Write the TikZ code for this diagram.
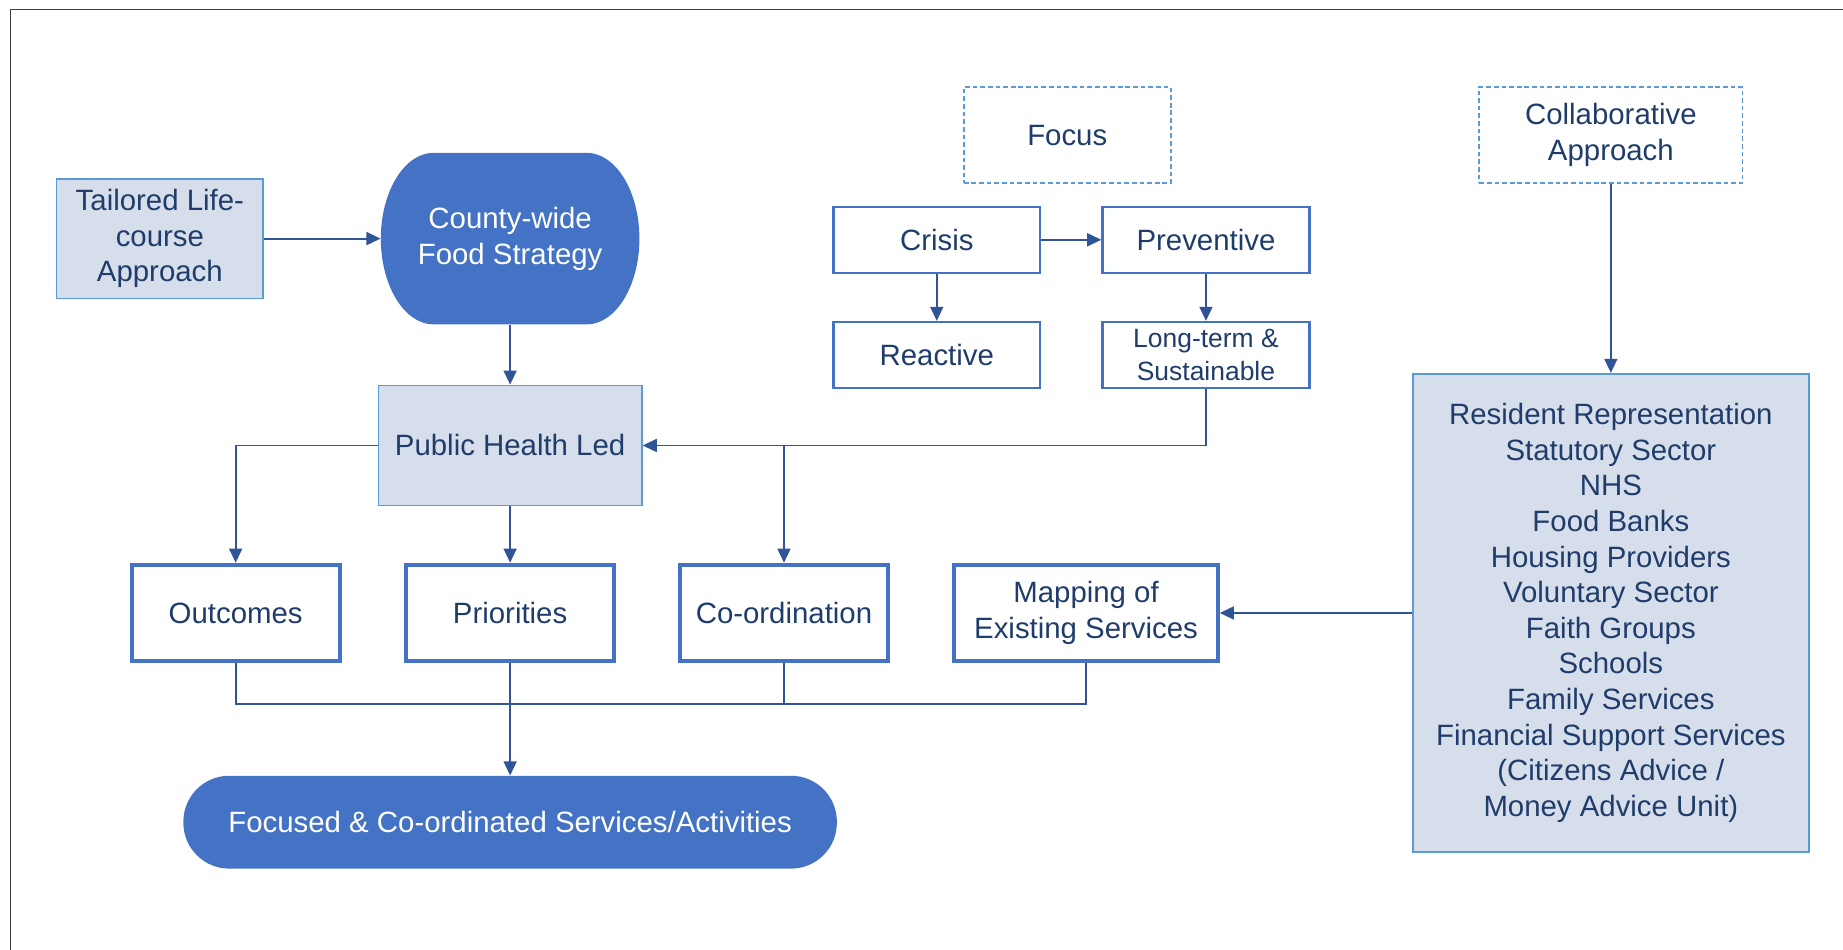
\documentclass[tikz,border=0pt]{standalone}
\usepackage{fontspec}
\setmainfont{Liberation Sans}
\usetikzlibrary{arrows.meta}
\definecolor{strategyblue}{RGB}{68,114,196}
\definecolor{paleblue}{RGB}{214,222,235}
\definecolor{edgeblue}{RGB}{91,155,213}
\definecolor{linkblue}{RGB}{47,85,151}
\definecolor{inkblue}{RGB}{31,60,106}
\tikzset{
	txt/.style={font=\fontsize{25}{30.3}\selectfont, text=inkblue, align=center, inner sep=0pt},
	palebox/.style={txt, draw=edgeblue, fill=paleblue, line width=1.5pt},
	focusbox/.style={txt, draw=edgeblue, dash pattern=on 4pt off 2.5pt, line width=1.6pt},
	plainbox/.style={txt, draw=strategyblue, line width=2pt, minimum width=176pt, minimum height=56pt},
	stagebox/.style={txt, draw=strategyblue, line width=3.5pt, minimum width=177pt, minimum height=82pt},
	link/.style={draw=linkblue, line width=1.6pt},
	arrow/.style={link, -{Triangle[length=12pt,width=11pt]}}
}
\begin{document}
\begin{tikzpicture}[x=1pt, y=-1pt]
		\useasboundingbox (0,0) rectangle (1568,808);
		\draw[black!75, line width=1.5pt] (9,808) -- (9,8) -- (1568,8);
		% strategy shape
		\fill[strategyblue] (369,130) -- (499,130) .. controls (524,130) and (544,163) .. (544,203)
			.. controls (544,243) and (524,276) .. (499,276) -- (369,276)
			.. controls (344,276) and (324,243) .. (324,203)
			.. controls (324,163) and (344,130) .. (369,130) -- cycle;
		\node[txt, text=white, minimum width=220pt, minimum height=146pt] (county) at (434,203) {County-wide\\Food Strategy};
		\node[palebox, minimum width=176pt, minimum height=102pt] (tailored) at (136,203) {Tailored Life-\\course\\Approach};
		\node[palebox, minimum width=224pt, minimum height=102pt] (health) at (434,379) {Public Health Led};
		% focus
		\node[focusbox, minimum width=176pt, minimum height=82pt] (focus) at (908,115) {Focus};
		\node[plainbox] (crisis) at (797,204) {Crisis};
		\node[plainbox] (prevent) at (1026,204) {Preventive};
		\node[plainbox] (reactive) at (797,302) {Reactive};
		\node[plainbox, font=\fontsize{22.5}{28}\selectfont] (longterm) at (1026,302) {Long-term \&\\Sustainable};
		% partners
		\node[focusbox, minimum width=224pt, minimum height=82pt] (collab) at (1370.5,115) {Collaborative\\Approach};
		\node[palebox, minimum width=337pt, minimum height=407pt] (partners) at (1370.5,521.5) {Resident Representation\\Statutory Sector\\NHS\\Food Banks\\Housing Providers\\Voluntary Sector\\Faith Groups\\Schools\\Family Services\\Financial Support Services\\(Citizens Advice /\\Money Advice Unit)};
		% stages
		\node[stagebox] (outcomes) at (200.5,521.5) {Outcomes};
		\node[stagebox] (priorities) at (434,521.5) {Priorities};
		\node[stagebox] (coord) at (667,521.5) {Co-ordination};
		\node[stagebox, minimum width=224pt] (mapping) at (924,521.5) {Mapping of\\Existing Services};
		\node[txt, text=white, fill=strategyblue, rounded corners=39pt, minimum width=556pt, minimum height=79pt] (focused) at (434,699.5) {Focused \& Co-ordinated Services/Activities};
		% links
		\coordinate (split) at (667,379);
		\coordinate (bus) at (434,599);
		\draw[arrow] (tailored.east) -- (county.west);
		\draw[arrow] (county.south) -- (health.north);
		\draw[arrow] (crisis.east) -- (prevent.west);
		\draw[arrow] (crisis.south) -- (reactive.north);
		\draw[arrow] (prevent.south) -- (longterm.north);
		\draw[arrow] (longterm.south) |- (health.east);
		\draw[arrow] (split) -- (coord.north);
		\draw[arrow] (health.west) -| (outcomes.north);
		\draw[arrow] (health.south) -- (priorities.north);
		\draw[arrow] (collab.south) -- (partners.north);
		\draw[arrow] (partners.west) -- (mapping.east);
		\draw[link] (outcomes.south) |- (bus) -| (mapping.south);
		\draw[link] (coord.south) -- (coord.south |- bus);
		\draw[arrow] (priorities.south) -- (focused.north);
	\end{tikzpicture}
\end{document}
